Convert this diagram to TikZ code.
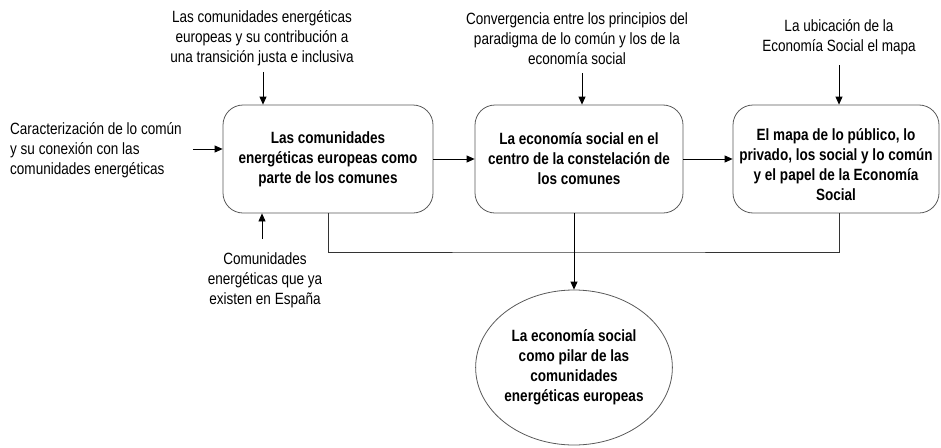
\documentclass[tikz,border=0pt]{standalone}
\usepackage{fontspec}
\setmainfont{Liberation Sans}[FakeStretch=0.83]
\usetikzlibrary{arrows.meta,shapes.geometric}
\begin{document}
\begin{tikzpicture}[x=1pt,y=-1pt,
  font=\fontsize{16.3}{20}\selectfont,
  box/.style={draw=black!65, line width=0.8pt, rounded corners=20pt, minimum height=108pt, inner sep=0pt,
              align=center, font=\fontsize{16.3}{20}\selectfont\bfseries},
  txt/.style={align=center, inner sep=0pt},
  btxt/.style={align=center, inner sep=0pt, font=\fontsize{16.3}{20}\selectfont\bfseries},
  arr/.style={draw=black, line width=0.8pt, -{Triangle[length=8pt,width=7pt]}},
  con/.style={draw=black!80, line width=0.8pt}]
\useasboundingbox (0,0) rectangle (941,447);

% boxes
\node[box, minimum width=210pt] (b1) at (328,159) {Las comunidades\\energéticas europeas como\\parte de los comunes};
\node[box, minimum width=208pt] (b2) at (579,159) {La economía social en el\\centro de la constelación de\\los comunes};
\node[box, minimum width=206pt] (b3) at (836,159) {};
\node[btxt] (t3) at (836,165) {El mapa de lo público, lo\\privado, los social y lo común\\y el papel de la Economía\\Social};
\node[ellipse, draw=black!65, line width=0.8pt, minimum width=178pt, minimum height=155pt, inner sep=0pt,
      align=center, font=\fontsize{16.3}{20}\selectfont\bfseries] (ell) at (574,367.5)
      {La economía social\\como pilar de las\\comunidades\\energéticas europeas};

% input texts
\node[txt] (top1) at (262,38) {Las comunidades energéticas\\europeas y su contribución a\\una transición justa e inclusiva};
\node[txt] (top2) at (577,39) {Convergencia entre los principios del\\paradigma de lo común y los de la\\economía social};
\node[txt] (top3) at (839,37.5) {La ubicación de la\\Economía Social el mapa};
\node[txt, align=left, anchor=west] (left1) at (10,150) {Caracterización de lo común\\y su conexión con las\\comunidades energéticas};
\node[txt] (bot1) at (265,280) {Comunidades\\energéticas que ya\\existen en España};

% arrows
\draw[arr, shorten <=6pt] ([xshift=1pt]top1.south) -- ([xshift=1pt]top1.south |- b1.north);
\draw[arr, shorten <=8pt] ([xshift=5pt]top2.south) -- ([xshift=5pt]top2.south |- b2.north);
\draw[arr, shorten <=10pt] (top3.south) -- (top3.south |- b3.north);
\draw[arr, shorten <=11pt] ([yshift=1pt]left1.east) -- ([yshift=1pt]left1.east -| b1.west);
\draw[arr, shorten <=13pt] ([xshift=-3pt]bot1.north) -- ([xshift=-3pt]bot1.north |- b1.south);
\draw[arr] (b1.east) -- (b2.west);
\draw[arr] (b2.east) -- (b3.west);

% merge
\coordinate (j) at (574,252);
\draw[con] (b1.south) |- (j) -| ([xshift=3.5pt]b3.south);
\draw[arr] (b2.south -| ell.north) -- (ell.north);
\end{tikzpicture}
\end{document}
